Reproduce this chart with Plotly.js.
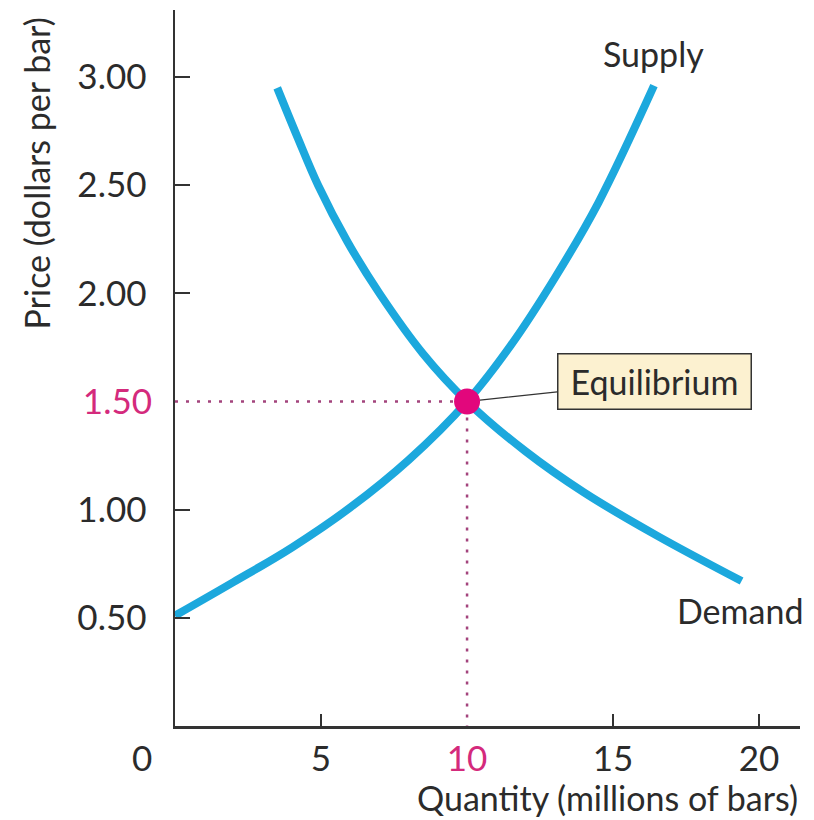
<!DOCTYPE html>
<html>
<head>
<meta charset="utf-8">
<script src="https://cdn.plot.ly/plotly-3.0.1.min.js"></script>
<style>html,body{margin:0;padding:0;background:#fff;}#chart{width:814px;height:820px;}</style>
</head>
<body>
<div id="chart"></div>
<script>
// Data
const supplyQ = [0, 2, 4, 6, 8, 10, 11.5, 13, 14.5, 16.4];
const supplyP = [0.51, 0.665, 0.825, 1.01, 1.23, 1.50, 1.76, 2.07, 2.42, 2.96];
const demandQ = [3.5, 4.2, 4.9, 5.9, 7.0, 8.5, 10, 12, 14, 16.5, 19.4];
const demandP = [2.95, 2.72, 2.50, 2.24, 2.00, 1.72, 1.50, 1.27, 1.08, 0.88, 0.67];
const eqQ = 10;
const eqP = 1.50;
const xTicks = [5, 15, 20];
const xTickText = ['5', '15', '20'];
const yTicks = [0.5, 1.0, 2.0, 2.5, 3.0];
const yTickText = ['0.50', '1.00', '2.00', '2.50', '3.00'];
const xRange = [0, 21.4];
const yRange = [0, 3.31];

const FONT = 'Lato, "Open Sans", sans-serif';
const TXT = '#2b2b2b';
const MAG = '#d42a7c';
const CURVE = '#1ca8dd';
const TICKSIZE = 35;
const LABSIZE = 34;

const traces = [
  {x: supplyQ, y: supplyP, type: 'scatter', mode: 'lines',
   line: {color: CURVE, width: 8, shape: 'spline', smoothing: 1}, hoverinfo: 'skip'},
  {x: demandQ, y: demandP, type: 'scatter', mode: 'lines',
   line: {color: CURVE, width: 8, shape: 'spline', smoothing: 1}, hoverinfo: 'skip'},
  {x: [0, eqQ, eqQ], y: [eqP, eqP, 0], xaxis: 'x2', yaxis: 'y2', type: 'scatter', mode: 'lines',
   line: {color: '#a3437c', width: 2.5, dash: '3px,8px'}, hoverinfo: 'skip'},
  {x: [eqQ], y: [eqP], xaxis: 'x2', yaxis: 'y2', type: 'scatter', mode: 'markers',
   marker: {color: '#e2077c', size: 26}, hoverinfo: 'skip'}
];

const layout = {
  width: 814, height: 820,
  margin: {l: 175, r: 14, t: 10, b: 94},
  paper_bgcolor: '#ffffff', plot_bgcolor: '#ffffff',
  showlegend: false,
  font: {family: FONT, size: LABSIZE, color: TXT},
  xaxis: {range: xRange, showgrid: false, zeroline: false, showline: true,
          linecolor: '#333', linewidth: 2.5, ticks: 'inside', ticklen: 12, tickwidth: 2,
          tickcolor: '#333', tickvals: xTicks, ticktext: xTickText, ticklabelstandoff: 0,
          tickfont: {family: FONT, size: TICKSIZE, color: TXT}, fixedrange: true},
  yaxis: {range: yRange, showgrid: false, zeroline: false, showline: true,
          linecolor: '#333', linewidth: 2.5, ticks: 'inside', ticklen: 15, tickwidth: 2,
          tickcolor: '#333', tickvals: yTicks, ticktext: yTickText, ticklabelstandoff: 19,
          tickfont: {family: FONT, size: TICKSIZE, color: TXT}, fixedrange: true},
  xaxis2: {range: xRange, overlaying: 'x', anchor: 'y2', showgrid: false, zeroline: false,
           showline: false, ticks: '', tickvals: [eqQ], ticktext: ['10'], ticklabelstandoff: 9,
           tickfont: {family: FONT, size: TICKSIZE, color: MAG}, fixedrange: true},
  yaxis2: {range: yRange, overlaying: 'y', anchor: 'x2', showgrid: false, zeroline: false,
           showline: false, ticks: '', tickvals: [eqP], ticktext: ['1.50'], ticklabelstandoff: 22,
           tickfont: {family: FONT, size: TICKSIZE, color: MAG}, fixedrange: true},
  annotations: [
    {text: '0', xref: 'x', yref: 'y', x: 0, y: 0, xshift: -33, yshift: -31,
     showarrow: false, font: {family: FONT, size: TICKSIZE, color: TXT}},
    {text: 'Supply', xref: 'x', yref: 'y', x: 16.4, y: 3.11, showarrow: false,
     font: {family: FONT, size: LABSIZE, color: TXT}},
    {text: 'Demand', xref: 'x', yref: 'y', x: 19.35, y: 0.536, showarrow: false,
     font: {family: FONT, size: LABSIZE, color: TXT}},
    {text: 'Equilibrium', xref: 'x', yref: 'y', x: eqQ, y: eqP, ax: 187, ay: -20,
     showarrow: true, arrowhead: 0, arrowwidth: 1.2, arrowcolor: '#333', standoff: 13,
     bgcolor: '#fcf1d0', bordercolor: '#333', borderwidth: 1.5, borderpad: 4,
     width: 184, height: 46, font: {family: FONT, size: LABSIZE, color: TXT}},
    {text: 'Price (dollars per bar)', xref: 'paper', yref: 'paper', x: -0.222, y: 0.772,
     textangle: -90, showarrow: false, xanchor: 'center', yanchor: 'middle',
     font: {family: FONT, size: LABSIZE, color: TXT}},
    {text: 'Quantity (millions of bars)', xref: 'paper', yref: 'paper', x: 1.0, y: -0.1,
     xanchor: 'right', yanchor: 'middle', showarrow: false,
     font: {family: FONT, size: LABSIZE, color: TXT}}
  ]
};

Plotly.newPlot('chart', traces, layout, {displayModeBar: false, staticPlot: true});
</script>
</body>
</html>
